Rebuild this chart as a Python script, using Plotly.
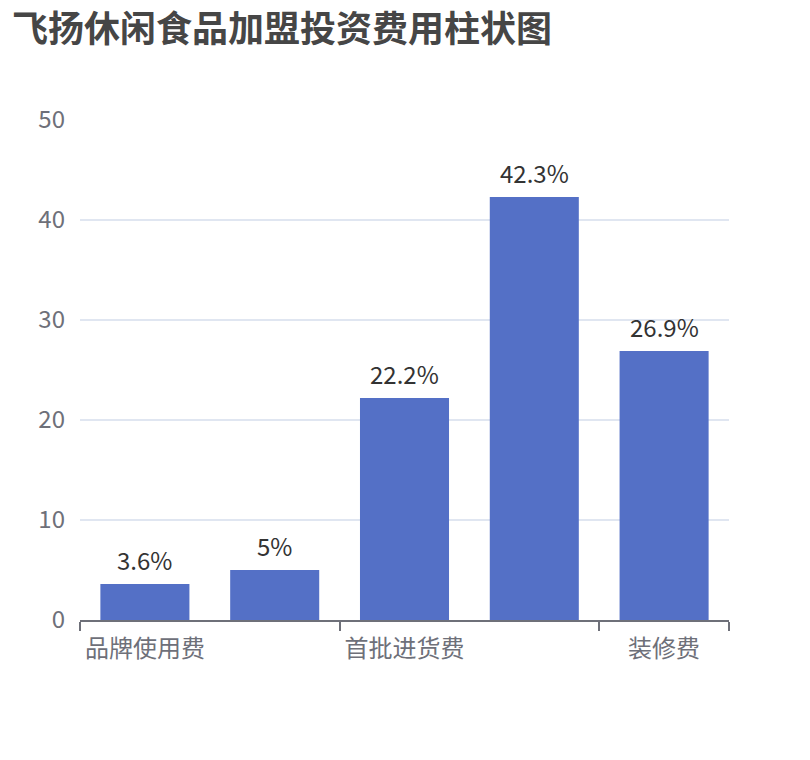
import plotly.graph_objects as go

categories = ["品牌使用费", "保证金", "首批进货费", "设备费", "装修费"]
values = [3.6, 5, 22.2, 42.3, 26.9]
value_labels = ["3.6%", "5%", "22.2%", "42.3%", "26.9%"]
shown_label_idx = [0, 2, 4]
y_ticks = [0, 10, 20, 30, 40, 50]
title_text = "飞扬休闲食品加盟投资费用柱状图"

FONT = "Noto Sans CJK SC, Microsoft YaHei, sans-serif"
positions = list(range(len(categories)))

fig = go.Figure()
fig.add_trace(go.Bar(
    x=positions,
    y=values,
    width=0.686,
    marker=dict(color="#5470C6", line=dict(width=0)),
    hoverinfo="skip",
))

for pos, val, lab in zip(positions, values, value_labels):
    fig.add_annotation(
        x=pos, y=val, xref="x", yref="y",
        text=lab, showarrow=False,
        xanchor="center", yanchor="bottom", yshift=5,
        font=dict(family=FONT, size=24, color="#333333"),
    )

# chart title
fig.add_annotation(
    x=-0.108, y=1.188, xref="paper", yref="paper",
    text="<b>" + title_text + "</b>", showarrow=False,
    xanchor="left", yanchor="middle",
    font=dict(family=FONT, size=36, color="#464646"),
)

boundaries = [-0.5, 1.5, 3.5, 4.5]

fig.update_layout(
    width=810,
    height=760,
    margin=dict(l=72, r=89, t=112, b=148),
    paper_bgcolor="white",
    plot_bgcolor="white",
    showlegend=False,
    xaxis=dict(
        range=[-0.5, 4.5],
        tickmode="array",
        tickvals=[positions[i] for i in shown_label_idx],
        ticktext=[categories[i] for i in shown_label_idx],
        ticks="outside",
        ticklen=0,
        ticklabelstandoff=6,
        tickfont=dict(family=FONT, size=24, color="#6E7079"),
        showline=True,
        linecolor="#6E7079",
        linewidth=2,
        showgrid=False,
        zeroline=False,
        fixedrange=True,
        minor=dict(
            tickmode="array",
            tickvals=boundaries,
            ticks="outside",
            ticklen=9,
            tickcolor="#6E7079",
            tickwidth=2,
            showgrid=False,
        ),
    ),
    yaxis=dict(
        range=[0, 50],
        tickmode="array",
        tickvals=y_ticks,
        tickfont=dict(family=FONT, size=24, color="#6E7079"),
        showgrid=True,
        gridcolor="#E0E6F1",
        gridwidth=1.5,
        zeroline=False,
        showline=False,
        ticks="",
        ticklabelstandoff=14,
        fixedrange=True,
    ),
)

fig.write_html("out.html")
